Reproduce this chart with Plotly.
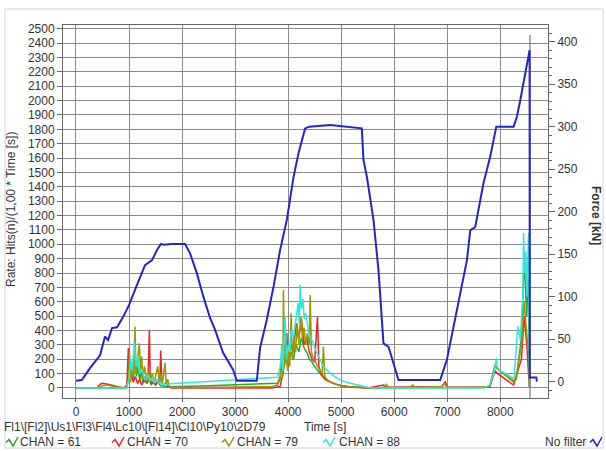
import plotly.graph_objects as go

# ---------------- data ----------------
force_t = [0, 110, 264, 453, 547, 604, 679, 774, 887, 1000, 1113, 1208, 1302, 1434, 1528, 1600, 1650,
           1800, 2057, 2151, 2277, 2402, 2528, 2623, 2774, 2962, 3032, 3409, 3472, 3598, 3723, 3849,
           3975, 4100, 4200, 4320, 4400, 4792, 5390, 5420, 5485, 5610, 5704, 5798, 5893, 6081, 6868,
           6994, 7183, 7372, 7434, 7528, 7685, 7811, 7925, 8252, 8315, 8377, 8553, 8556, 8680, 8690]
force_kn = [1, 2, 16, 31, 53, 49, 63, 64, 76, 90, 108, 123, 137, 143, 155, 162, 161,
            162, 162, 151, 128, 100, 75, 61, 34, 14, 1, 1, 40, 73, 111, 155,
            190, 240, 270, 298, 300, 302, 298, 261, 241, 190, 131, 45, 41, 2, 2,
            26, 84, 143, 178, 182, 234, 265, 300, 300, 312, 331, 390, 5, 5, 0]

ch61_t = [0, 950, 1000, 1020, 1050, 1080, 1110, 1140, 1170, 1200, 1230, 1260, 1300, 1340, 1380, 1420,
          1460, 1500, 1540, 1600, 1700, 1800, 2500, 3000, 3500, 3800, 3850, 3880, 3900, 3950, 4000,
          4050, 4100, 4150, 4200, 4250, 4300, 4350, 4400, 4450, 4500, 4600, 4700, 4800, 4900, 5000,
          5200, 5500, 7800, 7900, 7950, 8250, 8300, 8400, 8450, 8500, 8540, 8550]
ch61_v = [0, 0, 120, 40, 180, 60, 250, 80, 150, 50, 120, 40, 80, 30, 60, 20,
          50, 20, 40, 15, 10, 8, 15, 20, 28, 33, 80, 243, 100, 200, 150,
          250, 200, 300, 250, 350, 280, 250, 200, 180, 150, 100, 60, 40, 25, 15,
          5, 0, 5, 150, 130, 50, 60, 350, 900, 500, 1000, 0]

ch70_t = [0, 400, 450, 500, 600, 700, 900, 960, 987, 1000, 1040, 1080, 1120, 1160, 1200, 1240, 1280,
          1320, 1360, 1384, 1400, 1430, 1470, 1500, 1540, 1580, 1598, 1620, 1660, 1700, 1740, 1800,
          3000, 3700, 3850, 3900, 3975, 4000, 4050, 4100, 4150, 4200, 4250, 4300, 4350, 4400, 4450,
          4500, 4553, 4580, 4620, 4700, 4800, 4900, 5000, 5100, 5300, 5500, 5800, 5850, 6900, 6962,
          7000, 7800, 7900, 7950, 8250, 8400, 8450, 8500, 8550]
ch70_v = [0, 0, 25, 33, 25, 15, 0, 20, 278, 60, 100, 40, 80, 30, 60, 20, 50,
          40, 80, 403, 60, 30, 40, 20, 50, 30, 260, 30, 20, 40, 10, 0,
          0, 0, 10, 100, 382, 150, 300, 250, 450, 350, 480, 300, 350, 250, 200,
          180, 496, 150, 100, 60, 40, 25, 15, 10, 3, 0, 20, 5, 10, 44,
          5, 5, 120, 100, 20, 200, 500, 300, 0]

ch79_t = [0, 400, 500, 600, 700, 800, 950, 990, 1010, 1030, 1060, 1090, 1113, 1130, 1160, 1195, 1215,
          1239, 1260, 1290, 1320, 1350, 1380, 1410, 1440, 1470, 1500, 1540, 1570, 1600, 1630, 1680,
          1700, 1730, 1760, 1800, 2200, 2800, 3400, 3700, 3800, 3850, 3880, 3900, 3912, 3930, 3960,
          3990, 4010, 4030, 4057, 4080, 4110, 4140, 4170, 4200, 4240, 4270, 4300, 4330, 4360, 4400,
          4415, 4440, 4480, 4520, 4553, 4600, 4640, 4666, 4690, 4730, 4800, 4900, 5000, 5200, 5400,
          5600, 5800, 5850, 5900, 6300, 6350, 6400, 6900, 6950, 7000, 7500, 7800, 7900, 7930, 8250,
          8300, 8400, 8450, 8500, 8540, 8560]
ch79_v = [0, 0, 15, 20, 10, 5, 0, 60, 250, 40, 150, 80, 427, 100, 200, 311, 120,
          218, 60, 150, 90, 40, 120, 60, 100, 30, 80, 150, 40, 100, 30, 174,
          20, 60, 10, 5, 3, 5, 8, 10, 20, 60, 200, 80, 682, 150, 250,
          120, 300, 150, 520, 200, 350, 250, 450, 300, 500, 350, 420, 300, 380, 300,
          647, 250, 200, 180, 150, 120, 100, 287, 80, 60, 40, 25, 15, 8, 3,
          0, 5, 25, 5, 3, 20, 3, 10, 30, 5, 3, 10, 160, 140, 40,
          60, 300, 600, 400, 200, 0]

ch88_t = [0, 950, 1000, 1030, 1060, 1100, 1130, 1160, 1200, 1240, 1280, 1320, 1360, 1400, 1440, 1480,
          1520, 1560, 1600, 1650, 1700, 1800, 2500, 3000, 3500, 3800, 3850, 3880, 3900, 3943, 3970,
          4000, 4030, 4060, 4100, 4132, 4160, 4189, 4210, 4226, 4250, 4280, 4300, 4330, 4353, 4380,
          4420, 4450, 4478, 4520, 4560, 4604, 4650, 4700, 4730, 4800, 4900, 4981, 5100, 5200, 5296,
          5400, 5500, 5600, 7700, 7800, 7880, 7925, 7950, 8000, 8100, 8250, 8264, 8330, 8377, 8400,
          8428, 8440, 8460, 8480, 8503, 8520, 8534, 8550]
ch88_v = [0, 0, 60, 200, 120, 320, 150, 230, 100, 130, 80, 60, 90, 50, 70, 40,
          60, 30, 40, 20, 25, 30, 45, 55, 65, 75, 150, 300, 120, 496, 200,
          300, 250, 400, 350, 427, 500, 590, 450, 717, 550, 620, 480, 520, 473, 400,
          350, 330, 311, 260, 230, 195, 160, 135, 125, 100, 75, 56, 40, 30, 21,
          10, 5, 0, 0, 20, 100, 208, 140, 120, 100, 67, 78, 427, 334, 500,
          660, 1078, 800, 950, 636, 900, 1078, 0]

cursor_t = 8560
cursor_top = 2456

x_ticks = [0, 1000, 2000, 3000, 4000, 5000, 6000, 7000, 8000]

# ---------------- styling ----------------
C61 = "#2aa52a"
C70 = "#e8262a"
C79 = "#999900"
C88 = "#2ee8e0"
CBLUE = "#2424cc"
GRID = "#8c8c8c"
TXT = "#333333"
FONT = "Liberation Sans, Arial, sans-serif"

W, H = 606, 451
L, R, T, B = 63, 548, 25, 398


def px(x):
    return (x - L) / (R - L)


def py(y):
    return (B - y) / (B - T)


fig = go.Figure()
for t, v, c in [(ch61_t, ch61_v, C61), (ch70_t, ch70_v, C70), (ch79_t, ch79_v, C79), (ch88_t, ch88_v, C88)]:
    fig.add_trace(go.Scatter(x=t, y=v, mode="lines", line=dict(color=c, width=1.5), yaxis="y"))

fig.add_trace(go.Scatter(x=[cursor_t, cursor_t], y=[-70, cursor_top], mode="lines",
                         line=dict(color="#777777", width=1.2), yaxis="y"))
fig.add_trace(go.Scatter(x=force_t, y=force_kn, mode="lines", line=dict(color=CBLUE, width=2), yaxis="y2"))

fig.update_layout(
    width=W, height=H,
    margin=dict(l=L, r=W - R, t=T, b=H - B),
    paper_bgcolor="white", plot_bgcolor="white",
    showlegend=False,
    font=dict(family=FONT, size=12, color=TXT),
    xaxis=dict(range=[-245, 8900], tickvals=x_ticks, showgrid=True, gridcolor=GRID, gridwidth=1,
               zeroline=False, showline=True, linecolor="#666666", linewidth=1, mirror=True,
               ticks="outside", ticklen=3, tickcolor="#666666", tickfont=dict(size=12, color=TXT)),
    yaxis=dict(range=[-70, 2526], tick0=0, dtick=100, showgrid=True, gridcolor=GRID, gridwidth=1,
               zeroline=False, showline=True, linecolor="#666666", linewidth=1, mirror=True,
               ticks="outside", ticklen=5, tickcolor="#666666", tickfont=dict(size=12, color=TXT)),
    yaxis2=dict(range=[-19.2, 419.6], tick0=0, dtick=50, overlaying="y", side="right", showgrid=False,
                zeroline=False, showline=True, linecolor="#666666", linewidth=1,
                ticks="outside", ticklen=6, tickcolor="#666666", tickfont=dict(size=12, color=TXT),
                minor=dict(dtick=10, ticks="outside", ticklen=3, tickcolor="#666666")),
)


def note(text, x, y, xanchor="left", angle=0, bold=False):
    return dict(text=f"<b>{text}</b>" if bold else text, x=px(x), y=py(y), xref="paper", yref="paper",
                xanchor=xanchor, yanchor="middle", textangle=angle, showarrow=False,
                font=dict(size=12, color=TXT))


ann = []
ann.append(note("Rate: Hits(n)/(1,00 * Time [s])", 11, 210, xanchor="center", angle=-90))
ann.append(note("Force [kN]", 596, 215, xanchor="center", angle=90, bold=True))
ann.append(note("Fl1\\[Fl2]\\Us1\\Fl3\\Fl4\\Lc10\\[Fl14]\\Cl10\\Py10\\2D79", 2, 427))
ann.append(note("Time [s]", 302, 427))

legend_items = [("CHAN = 61", C61, 6, 18), ("CHAN = 70", C70, 112, 125),
                ("CHAN = 79", C79, 222, 235), ("CHAN = 88", C88, 323, 337)]
shapes = []


def icon(x0, yc, color):
    pts = [(x0, yc + 0.5), (x0 + 3, yc - 2.5), (x0 + 7, yc + 4), (x0 + 12, yc - 5)]
    path = "M " + " L ".join(f"{px(a):.5f},{py(b):.5f}" for a, b in pts)
    return dict(type="path", path=path, xref="paper", yref="paper", line=dict(color=color, width=1.5))


for name, col, ix, tx in legend_items:
    shapes.append(icon(ix, 442, col))
    ann.append(note(name, tx, 442))
ann.append(note("No filter", 588, 442, xanchor="right"))
shapes.append(icon(590, 442, CBLUE))

shapes.append(dict(type="rect", xref="paper", yref="paper", x0=px(5), x1=px(603), y0=py(448), y1=py(9),
                   line=dict(color="#d4d4d4", width=1)))

fig.update_layout(annotations=ann, shapes=shapes)
fig.write_html("out.html")
